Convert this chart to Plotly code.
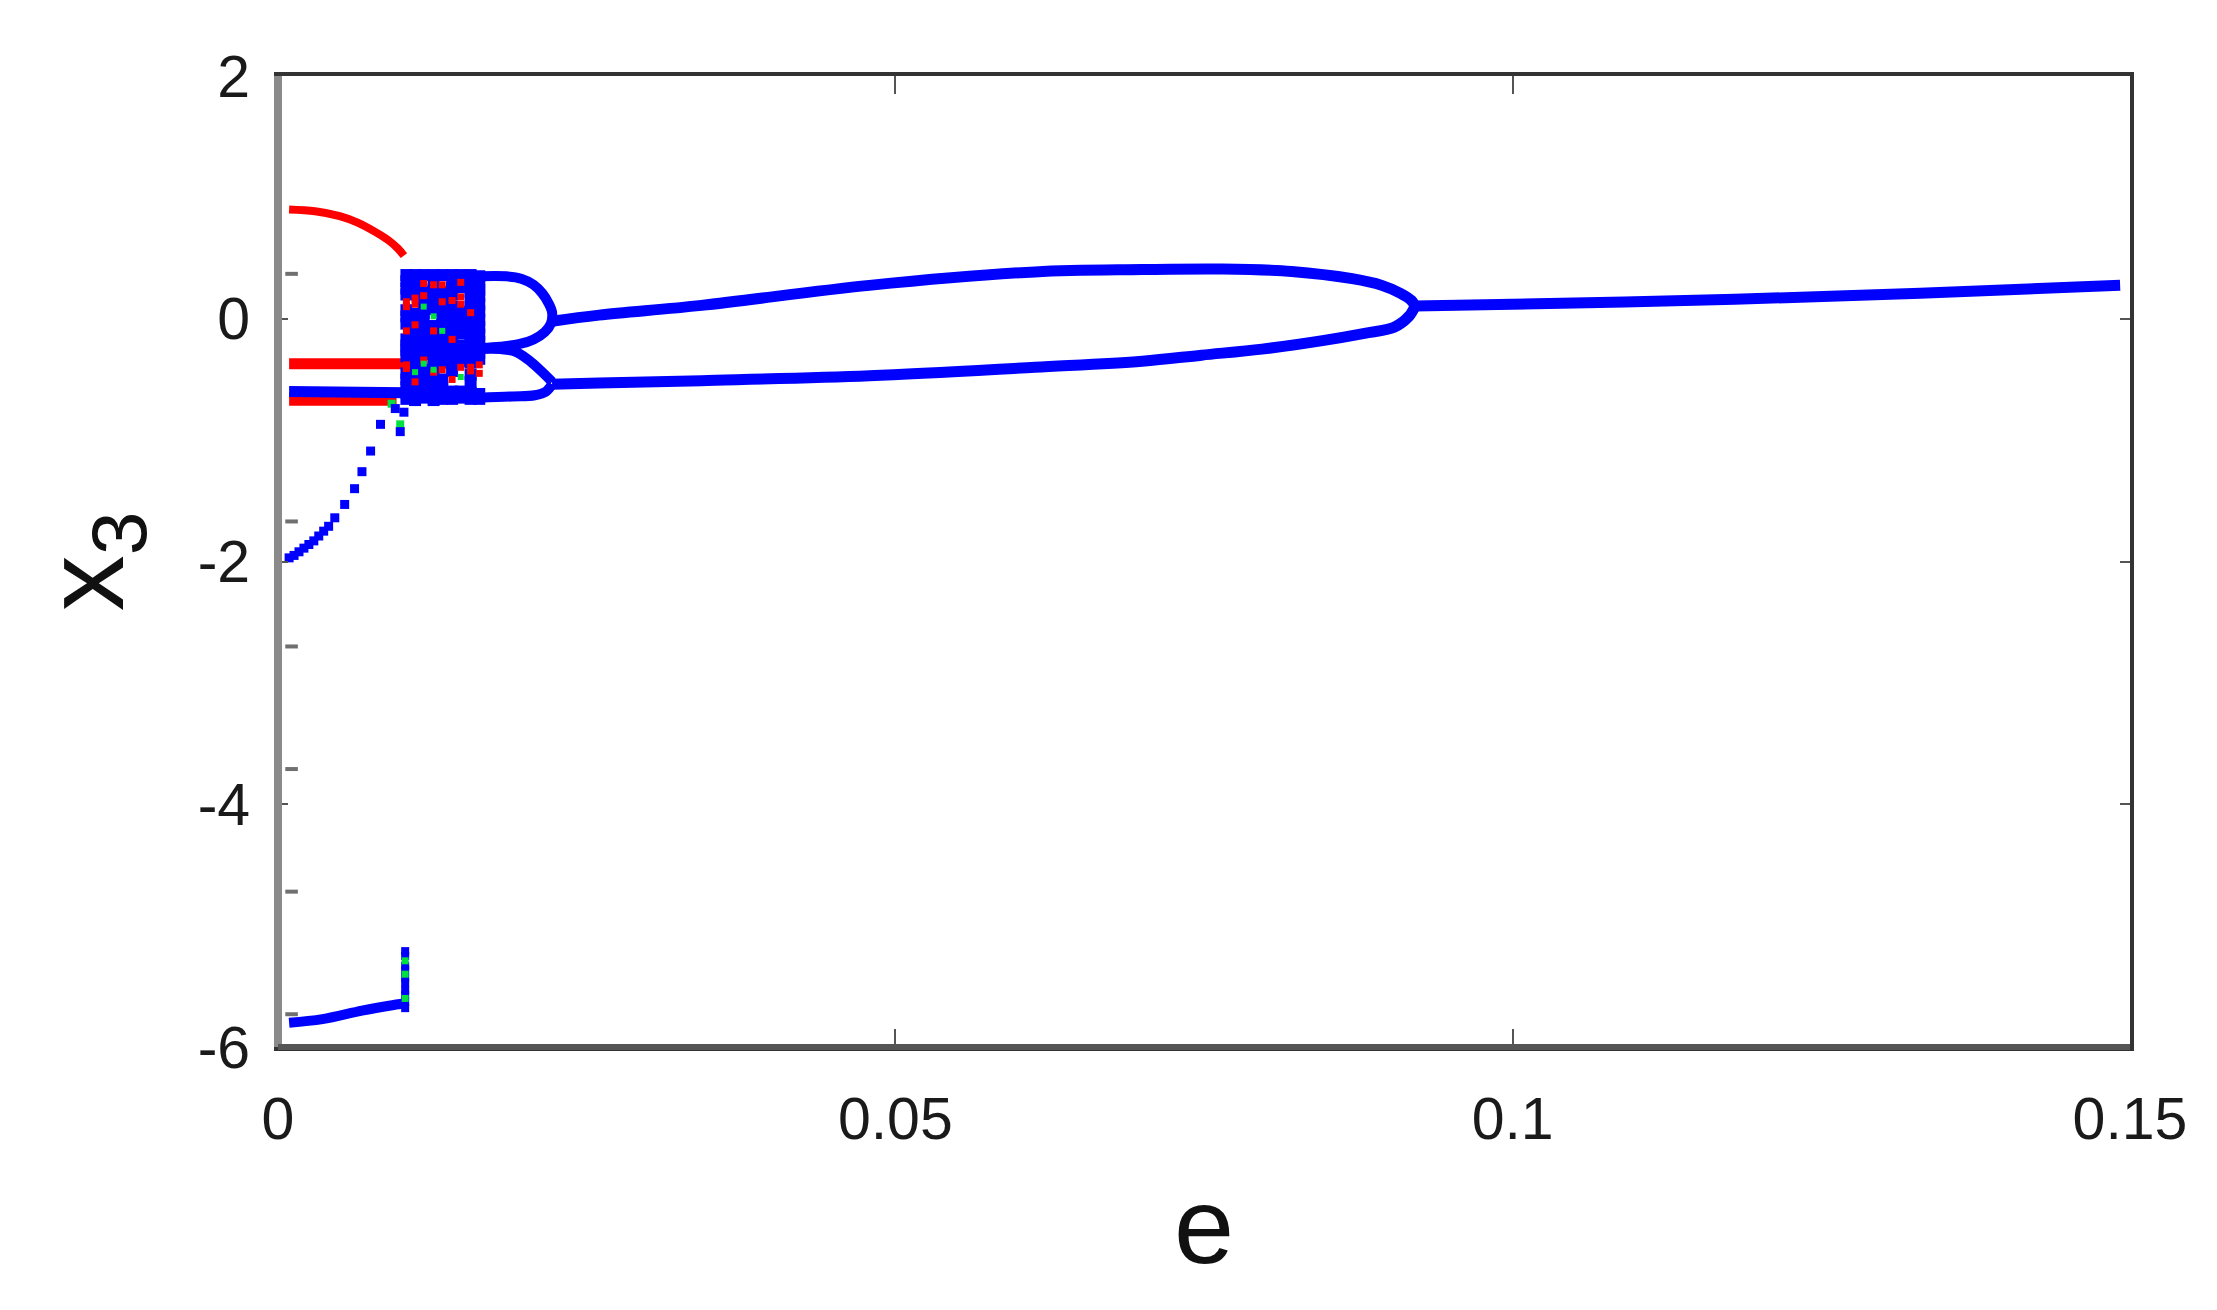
import plotly.graph_objects as go

# ------------------------------------------------------------------ data
# red branches (small e)
RED_ARC_E = [0.0009, 0.0030, 0.0050, 0.0065, 0.0078, 0.0089, 0.0097, 0.0102]
RED_ARC_Y = [0.90, 0.885, 0.845, 0.79, 0.72, 0.65, 0.58, 0.52]
RED_MID_E = [0.0009, 0.0104]
RED_MID_Y = [-0.37, -0.37]
RED_LOW_E = [0.0009, 0.0096]
RED_LOW_Y = [-0.68, -0.68]

# blue branches (small e)
BLUE_LEFT_E = [0.0009, 0.0104]
BLUE_LEFT_Y = [-0.60, -0.61]
BLUE_DOTS_E = [0.0009, 0.0013, 0.0017, 0.0021, 0.0025, 0.0029, 0.0033, 0.0037,
               0.0041, 0.0046, 0.0054, 0.0062, 0.0068, 0.0075, 0.0083, 0.0095,
               0.0099, 0.0102]
BLUE_DOTS_Y = [-1.97, -1.95, -1.92, -1.89, -1.86, -1.83, -1.79, -1.75,
               -1.71, -1.64, -1.53, -1.40, -1.26, -1.09, -0.87, -0.74,
               -0.93, -0.77]
GREEN_DOTS_E = [0.0099, 0.0092]
GREEN_DOTS_Y = [-0.87, -0.70]

BLUE_BOTTOM_E = [0.0009, 0.0036, 0.0068, 0.0090, 0.0103]
BLUE_BOTTOM_Y = [-5.80, -5.77, -5.70, -5.66, -5.64]
BOTTOM_COL_E = 0.0103
BOTTOM_COL_BLUE_Y = [-5.21, -5.25, -5.33, -5.37, -5.43, -5.47, -5.53, -5.57, -5.63, -5.68]
BOTTOM_COL_GREEN_Y = [-5.29, -5.40, -5.60]

GRAY_E = 0.0011
GRAY_Y = [0.37, -1.67, -2.70, -3.71, -4.72, -5.73]

# chaotic band 0.0103 < e < 0.0165 (one column per e step)
BOX_E = [0.0104, 0.0111, 0.0118, 0.0126, 0.0133, 0.0141, 0.0148, 0.0156, 0.0163]
BOX_BLUE = [
    [0.36, 0.31, 0.25, 0.20, 0.07, 0.02, -0.04, -0.17, -0.22, -0.26, -0.31, -0.45, -0.50, -0.56, -0.61, -0.66],
    [0.36, 0.30, 0.24, 0.04, -0.01, -0.07, -0.13, -0.19, -0.24, -0.28, -0.33, -0.39, -0.46, -0.58, -0.63, -0.67],
    [0.36, 0.22, 0.17, 0.11, 0.05, -0.02, -0.08, -0.14, -0.20, -0.25, -0.29, -0.42, -0.47, -0.53, -0.60, -0.65],
    [0.36, 0.32, 0.24, 0.19, 0.13, 0.08, -0.06, -0.12, -0.18, -0.24, -0.28, -0.33, -0.39, -0.48, -0.55, -0.62, -0.67],
    [0.36, 0.22, 0.17, 0.12, 0.06, 0.00, -0.05, -0.15, -0.21, -0.25, -0.30, -0.36, -0.50, -0.56, -0.61, -0.66],
    [0.36, 0.31, 0.25, 0.20, 0.10, 0.04, -0.02, -0.08, -0.13, -0.21, -0.26, -0.31, -0.37, -0.43, -0.60, -0.66],
    [0.36, 0.31, 0.26, 0.06, 0.00, -0.06, -0.12, -0.22, -0.26, -0.30, -0.35, -0.60, -0.65],
    [0.36, 0.30, 0.22, 0.16, 0.10, 0.04, -0.02, -0.08, -0.14, -0.20, -0.25, -0.29, -0.36, -0.46, -0.52, -0.61, -0.66],
    [0.35, 0.29, 0.24, 0.19, 0.12, 0.06, -0.01, -0.07, -0.13, -0.19, -0.24, -0.28, -0.33, -0.62, -0.66],
]
BOX_RED = [
    [0.14, 0.10, -0.10, -0.38, -0.41],
    [0.17, 0.12, -0.52, -0.05],
    [0.29, -0.34, 0.19],
    [0.28, -0.44, -0.10],
    [0.28, -0.42, 0.14],
    [0.15, -0.17, -0.50],
    [0.18, 0.12, -0.40, 0.30],
    [-0.40, -0.43, 0.05],
    [-0.38, -0.45],
]
BOX_GREEN = [
    [],
    [-0.44],
    [-0.37, 0.10],
    [0.02, -0.42],
    [-0.10],
    [],
    [-0.48],
    [],
    [],
]

# period-2 loops after the chaotic band
UPPER_LOOP_E = [0.0163, 0.0185, 0.0197, 0.0207, 0.0214, 0.0219, 0.0222, 0.0221, 0.0216, 0.0207, 0.0195, 0.0180, 0.0165]
UPPER_LOOP_Y = [0.35, 0.35, 0.33, 0.28, 0.21, 0.13, 0.05, -0.04, -0.11, -0.17, -0.21, -0.23, -0.24]
LOWER_LOOP_TOP_E = [0.0163, 0.0180, 0.0192, 0.0203, 0.0213, 0.0222]
LOWER_LOOP_TOP_Y = [-0.25, -0.25, -0.27, -0.34, -0.43, -0.52]
LOWER_LOOP_BOT_E = [0.0163, 0.0190, 0.0208, 0.0217, 0.0222]
LOWER_LOOP_BOT_Y = [-0.65, -0.64, -0.63, -0.60, -0.54]

# main period-2 branches and merged period-1 branch
UPPER_BRANCH_E = [0.0222, 0.0260, 0.0343, 0.0479, 0.0613, 0.0700, 0.0765, 0.0821, 0.0870, 0.0894, 0.0909, 0.0918, 0.0921]
UPPER_BRANCH_Y = [-0.02, 0.03, 0.11, 0.275, 0.386, 0.405, 0.41, 0.39, 0.33, 0.275, 0.21, 0.15, 0.105]
LOWER_BRANCH_E = [0.0222, 0.0260, 0.0343, 0.0479, 0.0613, 0.0700, 0.0748, 0.0797, 0.0846, 0.0880, 0.0904, 0.0916, 0.0921]
LOWER_BRANCH_Y = [-0.54, -0.53, -0.51, -0.47, -0.40, -0.35, -0.30, -0.25, -0.18, -0.12, -0.07, 0.02, 0.105]
MERGED_E = [0.0921, 0.105, 0.118, 0.133, 0.1492]
MERGED_Y = [0.105, 0.13, 0.16, 0.21, 0.275]

X_TICKS = [0, 0.05, 0.1, 0.15]
X_TICK_TEXT = ["0", "0.05", "0.1", "0.15"]
Y_TICKS = [-6, -4, -2, 0, 2]
Y_TICK_TEXT = ["-6", "-4", "-2", "0", "2"]

RED = "#FF0000"
BLUE = "#0000FF"
GREEN = "#00E040"
LW = 11
MS = 8

fig = go.Figure()


def line(xs, ys, color, width=LW, spline=True):
    fig.add_trace(go.Scatter(
        x=xs, y=ys, mode="lines",
        line=dict(color=color, width=width, shape="spline" if spline else "linear", smoothing=1.0),
        hoverinfo="skip", showlegend=False))


def dots(xs, ys, color, size=MS, symbol="square"):
    fig.add_trace(go.Scatter(
        x=xs, y=ys, mode="markers",
        marker=dict(color=color, size=size, symbol=symbol, line=dict(width=0)),
        hoverinfo="skip", showlegend=False))


def flatten(cols):
    xs, ys = [], []
    for e, col in zip(BOX_E, cols):
        xs += [e] * len(col)
        ys += col
    return xs, ys


# red lines first
line(RED_ARC_E, RED_ARC_Y, RED, width=8)
line(RED_MID_E, RED_MID_Y, RED, width=11, spline=False)
line(RED_LOW_E, RED_LOW_Y, RED, width=9, spline=False)
dots(GREEN_DOTS_E, GREEN_DOTS_Y, GREEN)

# blue
line(BLUE_LEFT_E, BLUE_LEFT_Y, BLUE, width=11, spline=False)
dots(BLUE_DOTS_E, BLUE_DOTS_Y, BLUE, size=9)
line(BLUE_BOTTOM_E, BLUE_BOTTOM_Y, BLUE, width=10)
dots([BOTTOM_COL_E] * len(BOTTOM_COL_BLUE_Y), BOTTOM_COL_BLUE_Y, BLUE)
dots([BOTTOM_COL_E] * len(BOTTOM_COL_GREEN_Y), BOTTOM_COL_GREEN_Y, GREEN, size=7)
bx_b, by_b = flatten(BOX_BLUE)
dots(bx_b, by_b, BLUE, size=12)
line(UPPER_LOOP_E, UPPER_LOOP_Y, BLUE, width=10)
line(LOWER_LOOP_TOP_E, LOWER_LOOP_TOP_Y, BLUE, width=10)
line(LOWER_LOOP_BOT_E, LOWER_LOOP_BOT_Y, BLUE, width=10)
line(UPPER_BRANCH_E, UPPER_BRANCH_Y, BLUE)
line(LOWER_BRANCH_E, LOWER_BRANCH_Y, BLUE)
line(MERGED_E, MERGED_Y, BLUE)

# red and green specks inside the chaotic band
bx_r, by_r = flatten(BOX_RED)
dots(bx_r, by_r, RED, size=7)
bx_g, by_g = flatten(BOX_GREEN)
dots(bx_g, by_g, GREEN, size=6)

# small grey marks near the left edge
fig.add_trace(go.Scatter(
    x=[GRAY_E] * len(GRAY_Y), y=GRAY_Y, mode="markers",
    marker=dict(symbol="line-ew", size=9, color="#707070", line=dict(color="#707070", width=4)),
    hoverinfo="skip", showlegend=False))

FONT = "Liberation Sans, Arial, sans-serif"

fig.update_layout(
    width=2217, height=1310,
    margin=dict(l=278, r=87, t=76, b=263),
    paper_bgcolor="white", plot_bgcolor="white",
    font=dict(family=FONT, color="#1a1a1a"),
    xaxis=dict(
        range=[0, 0.15], tickvals=X_TICKS, ticktext=X_TICK_TEXT,
        ticks="inside", ticklen=18, tickwidth=2, tickcolor="#555555",
        showline=True, linecolor="#333333", linewidth=4, mirror="ticks",
        showgrid=False, zeroline=False,
        tickfont=dict(size=59, family=FONT, color="#1a1a1a"),
        ticklabelstandoff=17,
        title=dict(text="e", font=dict(size=108, family=FONT, color="#111111"), standoff=38),
    ),
    yaxis=dict(
        range=[-6, 2], tickvals=Y_TICKS, ticktext=Y_TICK_TEXT,
        ticks="inside", ticklen=10, tickwidth=2, tickcolor="#555555",
        showline=True, linecolor="#333333", linewidth=4, mirror="ticks",
        showgrid=False, zeroline=False,
        tickfont=dict(size=59, family=FONT, color="#1a1a1a"),
        ticklabelstandoff=12,
        title=dict(text="x<sub>3</sub>", font=dict(size=112, family=FONT, color="#111111"), standoff=38),
    ),
    shapes=[
        dict(type="line", xref="paper", yref="paper", x0=0, x1=0, y0=0, y1=1,
             line=dict(color="#8a8a8a", width=8), layer="above"),
        dict(type="line", xref="paper", yref="paper", x0=0, x1=1, y0=0, y1=0,
             line=dict(color="#555555", width=6), layer="above"),
    ],
)

fig.write_html("out.html", config={"displayModeBar": False},
               post_script="document.body.style.margin='0';")
